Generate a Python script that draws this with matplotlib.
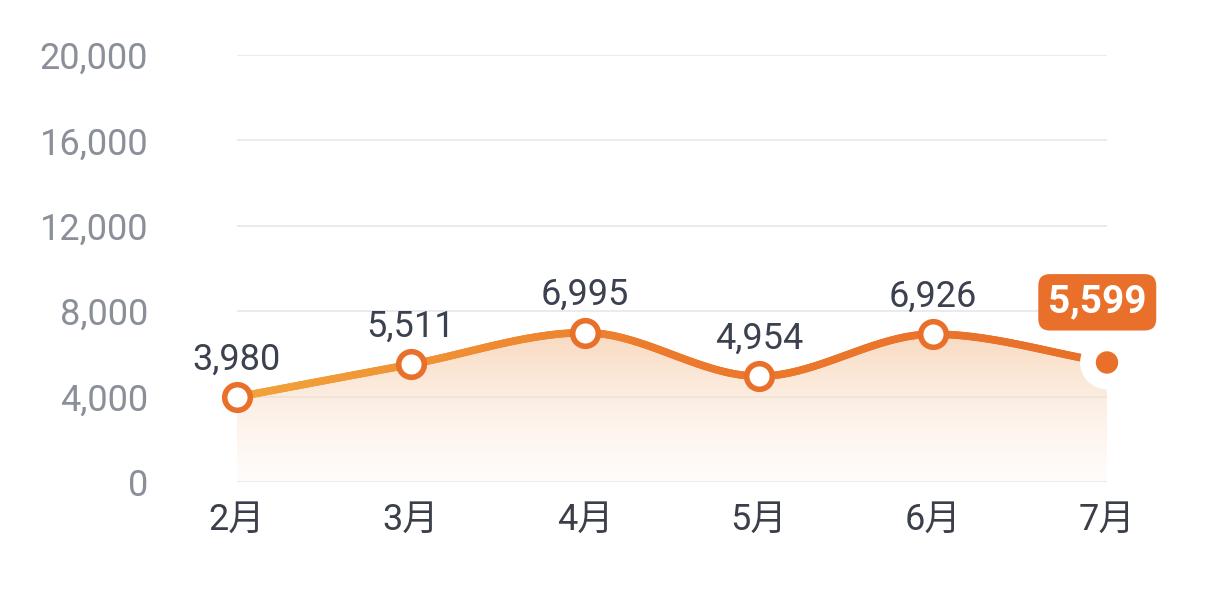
import numpy as np
import matplotlib
matplotlib.use("Agg")
import matplotlib.pyplot as plt
from matplotlib.collections import LineCollection
from matplotlib.patches import Polygon
from matplotlib.colors import LinearSegmentedColormap, to_rgba

plt.rcParams['font.family'] = ['Roboto', 'Noto Sans CJK SC', 'DejaVu Sans']

months = ['2月', '3月', '4月', '5月', '6月', '7月']
values = [3980, 5511, 6995, 4954, 6926, 5599]
yticks = [0, 4000, 8000, 12000, 16000, 20000]
ytick_labels = ['0', '4,000', '8,000', '12,000', '16,000', '20,000']

def monotone(x, y, n=400):
    x = np.asarray(x, float); y = np.asarray(y, float)
    h = np.diff(x); d = np.diff(y) / h
    m = np.zeros_like(y)
    m[0], m[-1] = d[0], d[-1]
    for i in range(1, len(y) - 1):
        if d[i-1] * d[i] <= 0:
            m[i] = 0
        else:
            w1 = 2*h[i] + h[i-1]; w2 = h[i] + 2*h[i-1]
            m[i] = (w1 + w2) / (w1/d[i-1] + w2/d[i])
    xs = np.linspace(x[0], x[-1], n); ys = np.empty_like(xs)
    for k, xv in enumerate(xs):
        i = min(np.searchsorted(x, xv, side='right') - 1, len(x) - 2)
        t = (xv - x[i]) / h[i]
        h00 = 2*t**3 - 3*t**2 + 1; h10 = t**3 - 2*t**2 + t
        h01 = -2*t**3 + 3*t**2; h11 = t**3 - t**2
        ys[k] = h00*y[i] + h10*h[i]*m[i] + h01*y[i+1] + h11*h[i]*m[i+1]
    return xs, ys

fig = plt.figure(figsize=(12.24, 6.16), dpi=100)
ax = fig.add_axes([0.1936, 0.2175, 0.7108, 0.6932])
x = np.arange(len(months))
xs, ys = monotone(x, values)

ax.set_xlim(0, 5); ax.set_ylim(0, 20000)
for t in yticks:
    ax.axhline(t, color='#e8e8ec', lw=1.2, zorder=0)

# gradient fill: darker near the line, fading toward the bottom
cmap_fill = LinearSegmentedColormap.from_list('f', [to_rgba('#f7cfae', 0.8), to_rgba('#fdf1e8', 0.2)])
grad = np.linspace(0, 1, 256).reshape(-1, 1)
im = ax.imshow(grad, extent=[0, 5, 0, 7100], aspect='auto', cmap=cmap_fill, origin='upper', zorder=1)
poly = Polygon(np.column_stack([np.r_[xs, 5, 0], np.r_[ys, 0, 0]]), closed=True, transform=ax.transData, facecolor='none', edgecolor='none')
ax.add_patch(poly)
im.set_clip_path(poly)

pts = np.column_stack([xs, ys]).reshape(-1, 1, 2)
segs = np.concatenate([pts[:-1], pts[1:]], axis=1)
cmap_line = LinearSegmentedColormap.from_list('l', ['#f2a43a', '#ec7a2c', '#e8702a'])
lc = LineCollection(segs, cmap=cmap_line, linewidth=5.5, capstyle='round', zorder=3)
lc.set_array(np.linspace(0, 1, len(segs)))
ax.add_collection(lc)

ax.scatter(x[:-1], values[:-1], s=340, facecolor='white', edgecolor='#e8702a', linewidth=4, zorder=4, clip_on=False)
ax.scatter([x[-1]], [values[-1]], s=1500, facecolor='white', edgecolor='none', zorder=4, clip_on=False)
ax.scatter([x[-1]], [values[-1]], s=260, facecolor='#e8702a', edgecolor='none', zorder=5, clip_on=False)

for i in range(len(values) - 1):
    ax.annotate(f'{values[i]:,}', (x[i], values[i]), xytext=(0, 14), textcoords='offset points',
                ha='center', va='bottom', fontsize=26, color='#3c4150', zorder=6)
ax.annotate(f'{values[-1]:,}', (x[-1], values[-1]), xytext=(-7, 30), textcoords='offset points',
            ha='center', va='bottom', fontsize=28, color='white', fontweight='bold', zorder=7,
            bbox=dict(boxstyle='round,pad=0.25,rounding_size=0.3', fc='#e8702a', ec='none'))

ax.set_xticks(x); ax.set_xticklabels(months, fontsize=26, color='#3a3f4a')
ax.set_yticks(yticks); ax.set_yticklabels(ytick_labels, fontsize=26, color='#8a8f99')
ax.tick_params(length=0)
ax.tick_params(axis='y', pad=64)
ax.tick_params(axis='x', pad=14)
for s in ax.spines.values():
    s.set_visible(False)

fig.savefig('out.png', dpi=100, facecolor='white')
